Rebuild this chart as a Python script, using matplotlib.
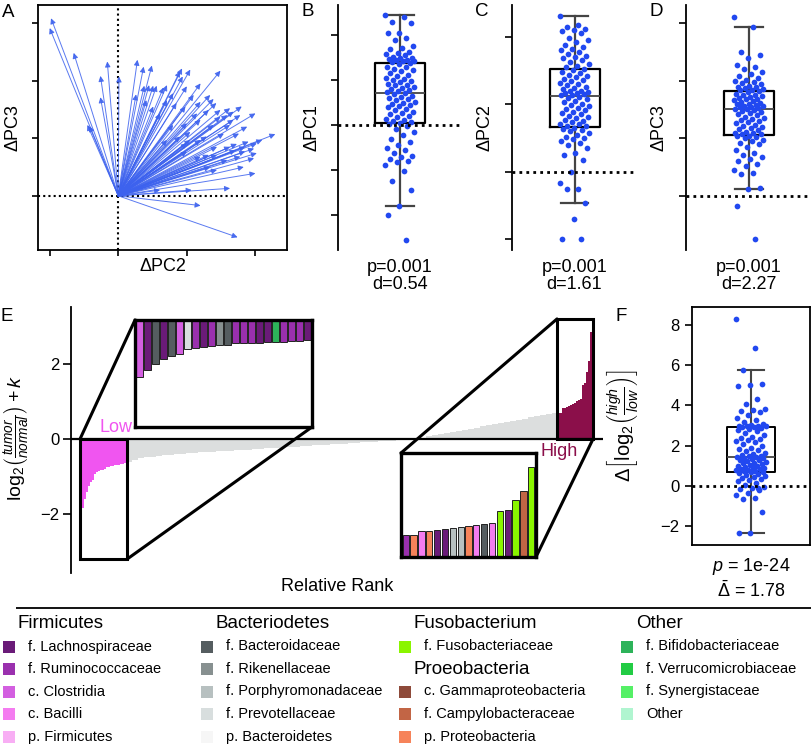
import numpy as np
import matplotlib
matplotlib.use('Agg')
import matplotlib.pyplot as plt
from matplotlib.patches import Rectangle, ConnectionPatch

plt.rcParams['font.family'] = ['Liberation Sans', 'DejaVu Sans']
plt.rcParams['mathtext.fontset'] = 'custom'
plt.rcParams['mathtext.rm'] = 'Liberation Sans'
plt.rcParams['mathtext.it'] = 'Liberation Sans:italic'
plt.rcParams['mathtext.bf'] = 'Liberation Sans:bold'

# ---- panel A: arrow end points (dPC2, dPC3)
a_dx = [-0.98, -1.00, -0.65, -0.45, -0.42, -0.16, -0.26, -0.26, 0.01, 0.28,
        0.37, 0.49, 0.26, 0.38, 0.45, 0.51, 0.66, 0.71, 0.41, 0.80,
        0.93, 1.05, 0.90, 0.94, 1.49, 1.10, 1.34, 1.39, 1.43, 1.20,
        0.98, 0.85, 1.63, 1.68, 1.80, 2.00, 1.59, 1.49, 1.63, 1.39,
        1.20, 1.05, 0.80, 2.29, 2.10, 2.02, 1.90, 1.73, 1.63, 1.44,
        1.32, 2.02, 1.98, 2.00, 1.63, 1.20, 1.74, 1.07, 0.61, 1.85,
        1.78, 1.59, 1.34, 1.20, 1.05, 1.00, 0.90, 0.71, 1.29, 1.20,
        0.71, 0.51, 0.61, 1.78, 1.88, 1.68, 1.49, 1.32, 1.85, 1.71,
        1.98, 1.44, 1.54, 1.76, 1.15, 1.00, 1.83, 1.44, 1.00, 1.20,
        0.56, 1.00]
a_dy = [3.08, 2.91, 2.48, 1.23, 1.21, 2.33, 2.08, 1.71, 2.07, 2.36,
        2.24, 2.26, 1.76, 1.91, 1.92, 1.91, 1.88, 1.92, 1.66, 1.78,
        2.21, 2.19, 2.16, 2.07, 2.17, 1.75, 1.75, 1.68, 1.61, 1.63,
        1.55, 1.61, 1.52, 1.46, 1.55, 1.43, 1.40, 1.37, 1.23, 1.23,
        1.32, 1.11, 1.23, 1.07, 0.97, 0.91, 0.94, 0.90, 0.85, 0.71,
        0.71, 0.74, 0.65, 0.39, 0.13, -0.17, -0.72, 0.10, 0.10, 0.85,
        0.68, 0.62, 0.50, 0.68, 0.97, 0.91, 1.03, 0.97, 1.03, 0.97,
        1.66, 1.55, 1.43, 1.40, 1.20, 1.32, 1.49, 1.49, 0.77, 0.79,
        0.82, 0.85, 1.08, 1.08, 1.43, 1.26, 0.50, 0.45, 1.90, 1.95,
        1.91, 0.77]

# ---- panels B-D: per-patient shifts
pc1_vals = [2.44, 2.40, 2.30, 2.28, 2.05, 2.04, 1.93, 1.90, 1.75, 1.72, 1.70, 1.62,
            1.60, 1.58, 1.55, 1.52, 1.50, 1.48, 1.47, 1.45, 1.44, 1.43, 1.42, 1.40,
            1.38, 1.35, 1.30, 1.28, 1.25, 1.22, 1.20, 1.15, 1.12, 1.10, 1.05, 1.02,
            1.00, 0.98, 0.95, 0.92, 0.90, 0.88, 0.85, 0.82, 0.80, 0.78, 0.76, 0.73,
            0.71, 0.68, 0.65, 0.62, 0.60, 0.58, 0.55, 0.52, 0.50, 0.47, 0.45, 0.42,
            0.40, 0.36, 0.33, 0.30, 0.27, 0.24, 0.20, 0.17, 0.14, 0.11, 0.08, 0.06,
            0.04, 0.02, -0.02, -0.08, -0.15, -0.22, -0.30, -0.38, -0.45, -0.50, -0.55, -0.62,
            -0.68, -0.72, -0.75, -0.80, -0.82, -0.90, -1.02, -1.25, -1.45, -1.81, -2.00, -2.55]
pc2_vals = [2.31, 2.18, 2.15, 2.12, 2.10, 2.08, 2.05, 1.98, 1.95, 1.92, 1.88, 1.85,
            1.82, 1.80, 1.78, 1.75, 1.72, 1.70, 1.68, 1.65, 1.62, 1.60, 1.57, 1.55,
            1.52, 1.50, 1.48, 1.46, 1.44, 1.42, 1.40, 1.38, 1.36, 1.34, 1.32, 1.30,
            1.28, 1.26, 1.24, 1.22, 1.20, 1.19, 1.18, 1.17, 1.16, 1.15, 1.14, 1.13,
            1.11, 1.09, 1.07, 1.05, 1.03, 1.01, 0.99, 0.97, 0.95, 0.93, 0.91, 0.89,
            0.87, 0.85, 0.83, 0.81, 0.79, 0.77, 0.75, 0.73, 0.71, 0.70, 0.68, 0.67,
            0.65, 0.64, 0.62, 0.60, 0.58, 0.55, 0.52, 0.50, 0.48, 0.45, 0.42, 0.40,
            0.35, 0.28, 0.25, 0.18, 0.00, -0.16, -0.25, -0.26, -0.46, -0.70, -0.99, -1.00]
pc3_vals = [3.11, 2.94, 2.50, 2.45, 2.40, 2.28, 2.25, 2.20, 2.15, 2.12, 2.08, 2.05,
            2.02, 2.00, 1.98, 1.96, 1.94, 1.92, 1.90, 1.89, 1.88, 1.86, 1.85, 1.84,
            1.82, 1.80, 1.78, 1.76, 1.75, 1.74, 1.72, 1.70, 1.69, 1.68, 1.66, 1.65,
            1.63, 1.62, 1.60, 1.59, 1.58, 1.57, 1.56, 1.55, 1.54, 1.53, 1.52, 1.51,
            1.50, 1.48, 1.46, 1.44, 1.42, 1.40, 1.38, 1.36, 1.34, 1.32, 1.30, 1.28,
            1.26, 1.24, 1.22, 1.20, 1.18, 1.16, 1.14, 1.12, 1.10, 1.09, 1.08, 1.07,
            1.05, 1.04, 1.02, 1.00, 0.98, 0.95, 0.92, 0.90, 0.85, 0.80, 0.75, 0.72,
            0.68, 0.65, 0.60, 0.55, 0.52, 0.45, 0.40, 0.38, 0.13, 0.12, -0.18, -0.75]
pc_labels = ['ΔPC1', 'ΔPC2', 'ΔPC3']
pc_notes = ['p=0.001\nd=0.54', 'p=0.001\nd=1.61', 'p=0.001\nd=2.27']

# ---- panel E: ranked log2 ratios
low_vals = [-1.85, -1.61, -1.43, -1.26, -1.15, -1.11, -0.94, -0.89, -0.86, -0.84, -0.82,
            -0.81, -0.75, -0.74, -0.73, -0.73, -0.70, -0.70, -0.70, -0.68, -0.67, -0.65]
gray_vals = [-0.62, -0.56, -0.52, -0.49, -0.47, -0.45, -0.43, -0.42, -0.40, -0.39,
             -0.38, -0.37, -0.36, -0.35, -0.34, -0.33, -0.32, -0.31, -0.30, -0.29,
             -0.28, -0.27, -0.26, -0.25, -0.24, -0.23, -0.22, -0.21, -0.20, -0.19,
             -0.18, -0.17, -0.16, -0.15, -0.14, -0.13, -0.12, -0.11, -0.10, -0.09,
             -0.08, -0.07, -0.06, -0.05, -0.04, -0.03, -0.02, -0.01, 0.01, 0.04,
             0.07, 0.10, 0.13, 0.16, 0.19, 0.22, 0.25, 0.28, 0.31, 0.34,
             0.37, 0.40, 0.43, 0.46, 0.49, 0.52, 0.55, 0.58, 0.61, 0.64, 0.67, 0.70]
high_vals = [0.69, 0.69, 0.83, 0.83, 0.85, 0.88, 0.92, 0.95, 0.97, 1.01, 1.04, 1.08,
             1.45, 1.50, 1.80, 2.10, 2.86]
low_taxa = ['c. Clostridia', 'f. Lachnospiraceae', 'f. Bacteroidaceae', 'f. Lachnospiraceae',
            'f. Bacteroidaceae', 'c. Clostridia', 'f. Prevotellaceae', 'f. Ruminococcaceae',
            'f. Lachnospiraceae', 'f. Ruminococcaceae', 'f. Rikenellaceae', 'f. Bacteroidaceae',
            'f. Ruminococcaceae', 'f. Ruminococcaceae', 'f. Ruminococcaceae', 'f. Lachnospiraceae',
            'f. Lachnospiraceae', 'f. Bifidobacteriaceae', 'f. Ruminococcaceae', 'f. Ruminococcaceae',
            'f. Ruminococcaceae', 'f. Lachnospiraceae']
high_taxa = ['f. Ruminococcaceae', 'p. Proteobacteria', 'c. Bacilli', 'p. Proteobacteria',
             'f. Lachnospiraceae', 'f. Lachnospiraceae', 'f. Porphyromonadaceae',
             'f. Porphyromonadaceae', 'p. Proteobacteria', 'c. Bacilli', 'f. Bacteroidaceae',
             'c. Bacilli', 'f. Fusobacteriaceae', 'f. Lachnospiraceae', 'f. Fusobacteriaceae',
             'f. Campylobacteraceae', 'f. Fusobacteriaceae']

# ---- panel F
f_vals = [8.30, 6.85, 5.75, 5.05, 5.00, 4.95, 4.30, 4.05, 3.85, 3.80, 3.75, 3.70,
          3.55, 3.40, 3.30, 3.20, 3.10, 3.05, 3.00, 2.98, 2.97, 2.96, 2.95, 2.94,
          2.90, 2.85, 2.80, 2.72, 2.65, 2.55, 2.45, 2.40, 2.35, 2.30, 2.25, 2.20,
          2.10, 2.00, 1.90, 1.85, 1.80, 1.72, 1.65, 1.60, 1.55, 1.50, 1.47, 1.45,
          1.43, 1.40, 1.38, 1.35, 1.30, 1.28, 1.25, 1.20, 1.15, 1.12, 1.10, 1.05,
          1.00, 0.98, 0.95, 0.90, 0.88, 0.85, 0.82, 0.80, 0.77, 0.75, 0.73, 0.71,
          0.69, 0.65, 0.60, 0.55, 0.50, 0.45, 0.40, 0.35, 0.30, 0.25, 0.15, 0.05,
          -0.05, -0.10, -0.15, -0.20, -0.35, -0.45, -0.60, -0.65, -1.30, -2.34, -2.36, -0.10]

# ---- legend
taxa_names = ['f. Lachnospiraceae', 'f. Ruminococcaceae', 'c. Clostridia', 'c. Bacilli', 'p. Firmicutes',
              'f. Bacteroidaceae', 'f. Rikenellaceae', 'f. Porphyromonadaceae', 'f. Prevotellaceae',
              'p. Bacteroidetes', 'f. Fusobacteriaceae', 'c. Gammaproteobacteria',
              'f. Campylobacteraceae', 'p. Proteobacteria', 'f. Bifidobacteriaceae',
              'f. Verrucomicrobiaceae', 'f. Synergistaceae', 'Other']
taxa_colors = ['#6a1b78', '#9a30ae', '#d35fe0', '#f47cf0', '#f8aef4',
               '#555d60', '#879090', '#b7c0c0', '#d8dede', '#f6f6f6',
               '#8af500', '#8e4a3a', '#c26545', '#f6835a',
               '#2db35a', '#22cc44', '#55f066', '#b0f5d0']
legend_cols = [
    [('h', 'Firmicutes'), ('i', 'f. Lachnospiraceae'), ('i', 'f. Ruminococcaceae'),
     ('i', 'c. Clostridia'), ('i', 'c. Bacilli'), ('i', 'p. Firmicutes')],
    [('h', 'Bacteriodetes'), ('i', 'f. Bacteroidaceae'), ('i', 'f. Rikenellaceae'),
     ('i', 'f. Porphyromonadaceae'), ('i', 'f. Prevotellaceae'), ('i', 'p. Bacteroidetes')],
    [('h', 'Fusobacterium'), ('i', 'f. Fusobacteriaceae'), ('h', 'Proeobacteria'),
     ('i', 'c. Gammaproteobacteria'), ('i', 'f. Campylobacteraceae'), ('i', 'p. Proteobacteria')],
    [('h', 'Other'), ('i', 'f. Bifidobacteriaceae'), ('i', 'f. Verrucomicrobiaceae'),
     ('i', 'f. Synergistaceae'), ('i', 'Other')],
]
cmap = dict(zip(taxa_names, taxa_colors))

W, H = 812, 745
BLUE = '#2148f0'


def pos(x0, y0, x1, y1):
    return [x0 / W, 1 - y1 / H, (x1 - x0) / W, (y1 - y0) / H]


def jitter(n, half):
    return ((np.arange(n) * 0.618034) % 1 - 0.5) * 2 * half


fig = plt.figure(figsize=(W / 100, H / 100), dpi=100)

# A
axA = fig.add_axes(pos(38, 5, 287, 250))
for dx, dy in zip(a_dx, a_dy):
    axA.annotate('', xy=(dx, dy), xytext=(0, 0),
                 arrowprops=dict(arrowstyle='-|>', color='#3d62ee', lw=0.7, alpha=0.85,
                                 mutation_scale=8, shrinkA=0, shrinkB=0))
axA.axhline(0, color='black', ls=(0, (1, 1.5)), lw=1.5)
axA.axvline(0, color='black', ls=(0, (1, 1.5)), lw=1.5)
axA.set_xlim(-1.17, 2.46)
axA.set_ylim(-0.94, 3.31)
axA.set_xticks([-1, 0, 1, 2])
axA.set_yticks([0, 1, 2, 3])
axA.tick_params(labelleft=False, labelbottom=False, length=4, width=1.2)
for s in axA.spines.values():
    s.set_linewidth(1.3)
axA.set_xlabel('ΔPC2', fontsize=13, labelpad=2)
axA.set_ylabel('ΔPC3', fontsize=13)
axA.yaxis.set_label_coords(-0.065, 0.5)

# B-D
for (x0, x1), vals, lim, ticks, lab, note in zip(
        [(338, 462), (512, 637), (686, 812)],
        [pc1_vals, pc2_vals, pc3_vals],
        [(-2.78, 2.67), (-1.16, 2.47), (-0.94, 3.32)],
        [[-2, -1, 0, 1, 2], [-1, 0, 1, 2], [0, 1, 2, 3]],
        pc_labels, pc_notes):
    ax = fig.add_axes(pos(x0, 5, x1, 250))
    ax.boxplot(vals, positions=[0.5], widths=0.4, showfliers=False, capwidths=0.22,
               boxprops=dict(color='black', lw=1.6),
               whiskerprops=dict(color='#444444', lw=1.6),
               capprops=dict(color='#444444', lw=1.6),
               medianprops=dict(color='#444444', lw=1.3))
    ax.scatter(0.5 + jitter(len(vals), 0.12), vals, s=17, color=BLUE, lw=0, zorder=3)
    ax.axhline(0, color='black', ls=(0, (1, 1.5)), lw=2, zorder=4)
    ax.set_xlim(0, 1)
    ax.set_ylim(*lim)
    ax.set_yticks(ticks)
    ax.set_xticks([])
    ax.tick_params(labelleft=False, length=5, width=1.2)
    for k in ['top', 'right', 'bottom']:
        ax.spines[k].set_visible(False)
    ax.spines['left'].set_linewidth(1.3)
    ax.set_ylabel(lab, fontsize=13)
    ax.yaxis.set_label_coords(-0.145, 0.5)
    ax.text(0.5, -0.035, note, transform=ax.transAxes, ha='center', va='top',
            fontsize=13, linespacing=1.05)

# E
axE = fig.add_axes(pos(71, 307, 603, 573))
n_low, n_gray = len(low_vals), len(gray_vals)
axE.bar(np.arange(n_low), low_vals, width=1, align='edge', color='#f055f0', lw=0)
axE.bar(n_low + 3 * np.arange(n_gray), gray_vals, width=3, align='edge', color='#dcdede', lw=0)
axE.bar(n_low + 3 * n_gray + np.arange(len(high_vals)), high_vals, width=1, align='edge',
        color='#8b0f4a', lw=0)
axE.axhline(0, color='black', lw=1.6, zorder=3)
axE.set_xlim(-5.5, 260.5)
axE.set_ylim(-3.59, 3.54)
axE.set_yticks([-2, 0, 2])
axE.set_yticklabels(['−2', '0', '2'])
axE.set_xticks([])
axE.tick_params(labelsize=12, length=5.5, width=1.2, pad=3)
for k in ['top', 'right', 'bottom']:
    axE.spines[k].set_visible(False)
axE.spines['left'].set_linewidth(1.3)
axE.set_ylabel(r'$\log_2\!\left(\frac{tumor}{normal}\right) + k$', fontsize=14)
axE.yaxis.set_label_coords(-0.074, 0.51)
axE.text(0.5, -0.02, 'Relative Rank', transform=axE.transAxes, ha='center', va='top', fontsize=13)
hi0 = n_low + 3 * n_gray
axE.add_patch(Rectangle((-1, -3.22), n_low + 1.5, 3.22, fill=False, ec='black', lw=2.2, zorder=4))
axE.add_patch(Rectangle((hi0 - 0.5, 0), len(high_vals) + 1, 3.22, fill=False, ec='black', lw=2.2, zorder=4))
axE.text(16.8, 0.08, 'Low', color='#f055f0', fontsize=13, ha='center', va='bottom')
axE.text(hi0 + 0.7, -0.1, 'High', color='#8b0f4a', fontsize=13, ha='center', va='top')

# insets
axLo = fig.add_axes(pos(135, 320, 312, 427))
axLo.bar(np.arange(n_low), low_vals, width=0.86, color=[cmap[t] for t in low_taxa],
         edgecolor='#222222', lw=0.7)
axLo.set_xlim(-0.6, n_low - 0.4)
axLo.set_ylim(-3.45, 0)
axHi = fig.add_axes(pos(401, 453, 536, 557))
axHi.bar(np.arange(len(high_vals)), high_vals, width=0.8, color=[cmap[t] for t in high_taxa],
         edgecolor='#222222', lw=0.7)
axHi.set_xlim(-0.6, len(high_vals) - 0.4)
axHi.set_ylim(0, 3.3)
for ax in (axLo, axHi):
    ax.set_xticks([])
    ax.set_yticks([])
    for s in ax.spines.values():
        s.set_linewidth(2.4)

for xyA, xyB, axB in [((-1, 0), (0, 1), axLo), ((n_low + 0.5, -3.22), (1, 0), axLo),
                      ((hi0 - 0.5, 3.22), (0, 1), axHi), ((hi0 + len(high_vals) + 0.5, 0), (1, 0), axHi)]:
    con = ConnectionPatch(xyA=xyA, coordsA=axE.transData, xyB=xyB, coordsB=axB.transAxes,
                          color='black', lw=2.2, zorder=5)
    fig.add_artist(con)

# F
axF = fig.add_axes(pos(692, 307, 810, 545))
axF.boxplot(f_vals, positions=[0.5], widths=0.41, showfliers=False, capwidths=0.22,
            boxprops=dict(color='black', lw=1.4),
            whiskerprops=dict(color='#444444', lw=1.5),
            capprops=dict(color='#444444', lw=1.5),
            medianprops=dict(color='#444444', lw=1.3))
axF.scatter(0.5 + jitter(len(f_vals), 0.13), f_vals, s=17, color=BLUE, lw=0, zorder=3)
axF.axhline(0, color='black', ls=(0, (1, 1.5)), lw=2, zorder=4)
axF.set_xlim(0, 1)
axF.set_ylim(-2.94, 8.9)
axF.set_yticks([-2, 0, 2, 4, 6, 8])
axF.set_yticklabels(['−2', '0', '2', '4', '6', '8'])
axF.set_xticks([])
axF.tick_params(labelsize=12, length=5, width=1.2, pad=4)
for s in axF.spines.values():
    s.set_linewidth(1.3)
axF.set_ylabel(r'$\Delta\left[\log_2\!\left(\frac{high}{low}\right)\right]$', fontsize=14.5)
axF.yaxis.set_label_coords(-0.44, 0.5)
axF.text(0.5, -0.045, r'$p$ = 1e-24', transform=axF.transAxes, ha='center', va='top', fontsize=13)
axF.text(0.5, -0.15, r'$\bar{\Delta}$ = 1.78', transform=axF.transAxes, ha='center', va='top', fontsize=13)

# panel letters
for x, y, t in [(2, 4, 'A'), (302, 3, 'B'), (475, 3, 'C'), (650, 3, 'D'), (0, 308, 'E'), (616, 308, 'F')]:
    fig.text(x / W, 1 - y / H, t, fontsize=13.5, va='top', ha='left')

# legend
axL = fig.add_axes(pos(0, 595, 812, 745))
axL.set_xlim(0, W)
axL.set_ylim(745, 595)
axL.axis('off')
axL.plot([16, 812], [608, 608], color='black', lw=1.3, solid_capstyle='butt')
col_x = [3, 201, 399, 621]
for cx, col in zip(col_x, legend_cols):
    for r, (kind, name) in enumerate(col):
        y = 624 + 22.5 * r
        if kind == 'h':
            axL.text(cx + 15, y, name, fontsize=13.5, va='center', ha='left')
        else:
            axL.add_patch(Rectangle((cx, y - 6), 12, 12, color=cmap[name], lw=0))
            axL.text(cx + 25, y, name, fontsize=10.5, va='center', ha='left')

fig.savefig('out.png', dpi=100)
